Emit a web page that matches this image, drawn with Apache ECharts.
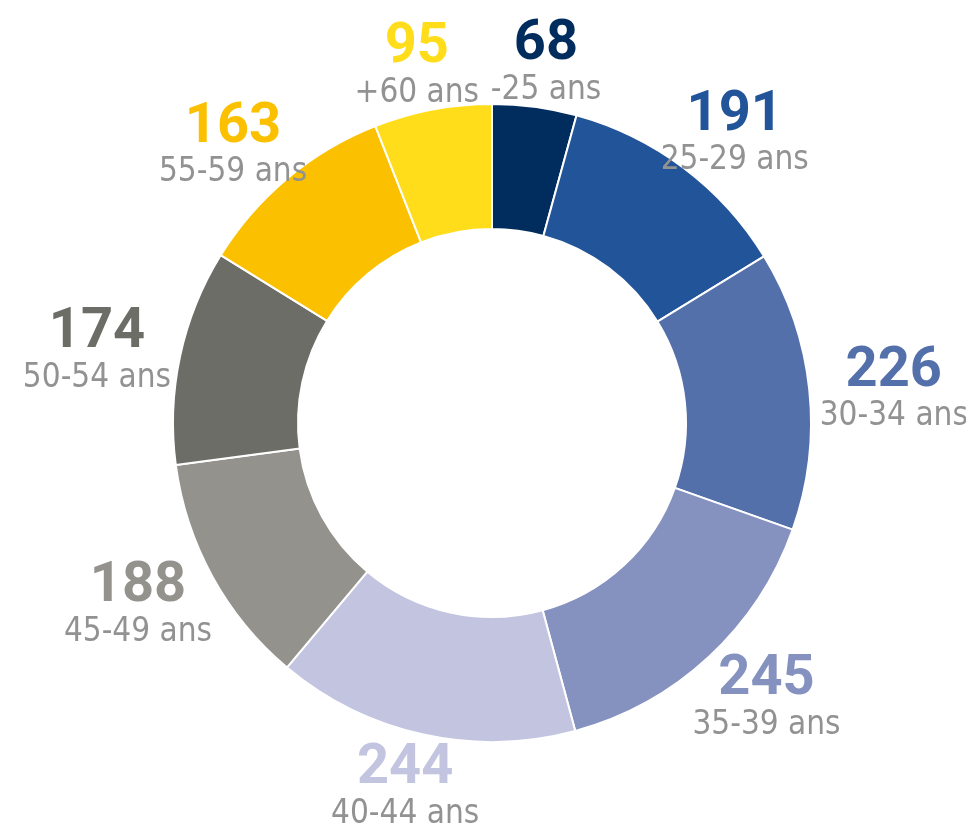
<!DOCTYPE html>
<html>
<head>
<meta charset="utf-8">
<script src="https://cdn.jsdelivr.net/npm/echarts@6/dist/echarts.min.js"></script>
<style>
    html, body { margin: 0; padding: 0; background: #fff; }
    #chart { width: 966px; height: 832px; }
</style>
</head>
<body>
<div id="chart"></div>
<script>
// tranches d'âge et effectifs
var categories = ['-25 ans', '25-29 ans', '30-34 ans', '35-39 ans', '40-44 ans', '45-49 ans', '50-54 ans', '55-59 ans', '+60 ans'];
var values = [68, 191, 226, 245, 244, 188, 174, 163, 95];

var palette = ['#002d5e', '#22549a', '#5470aa', '#8592c0', '#c2c4e0', '#93928d', '#6d6d67', '#fbc100', '#ffdd1a'];

var cx = 492, cy = 423, rOut = 319, rIn = 194;
var labelRx = 404, labelRy = 368, labelDy = 7;
var valueFont = 'Roboto, "DejaVu Sans Condensed", sans-serif';
var nameFont = '"DejaVu Sans Condensed", Roboto, sans-serif';

window.onload = function () {
    var myChart = echarts.init(document.getElementById('chart'));

    // angle milieu de chaque part (depuis le haut, sens horaire)
    var total = values.reduce(function (a, b) { return a + b; }, 0);
    var mids = [], acc = 0;
    for (var i = 0; i < values.length; i++) {
        mids.push((acc + values[i] / 2) / total * Math.PI * 2);
        acc += values[i];
    }

    var data = categories.map(function (name, i) {
        return { name: name, value: values[i], itemStyle: { color: palette[i] } };
    });

    // un style de chiffre par couleur
    var rich = {
        n: { fontFamily: nameFont, fontSize: 33, lineHeight: 40, color: '#929292', align: 'center' }
    };
    palette.forEach(function (col, i) {
        rich['v' + i] = { fontFamily: valueFont, fontWeight: 'bold', fontSize: 56, lineHeight: 50, color: col, align: 'center' };
    });

    var option = {
        animation: false,
        series: [{
            type: 'pie',
            center: [cx, cy],
            radius: [rIn, rOut],
            startAngle: 90,
            clockwise: true,
            avoidLabelOverlap: false,
            itemStyle: { borderColor: '#fff', borderWidth: 2 },
            label: {
                show: true,
                position: 'outside',
                formatter: function (p) {
                    return '{v' + p.dataIndex + '|' + p.value + '}\n{n|' + p.name + '}';
                },
                align: 'center',
                rich: rich
            },
            labelLine: { show: false },
            labelLayout: function (p) {
                var a = mids[p.dataIndex];
                return {
                    x: cx + labelRx * Math.sin(a),
                    y: cy - labelRy * Math.cos(a) + labelDy,
                    align: 'center',
                    verticalAlign: 'middle'
                };
            },
            data: data
        }]
    };

    myChart.setOption(option);
}
</script>
</body>
</html>
